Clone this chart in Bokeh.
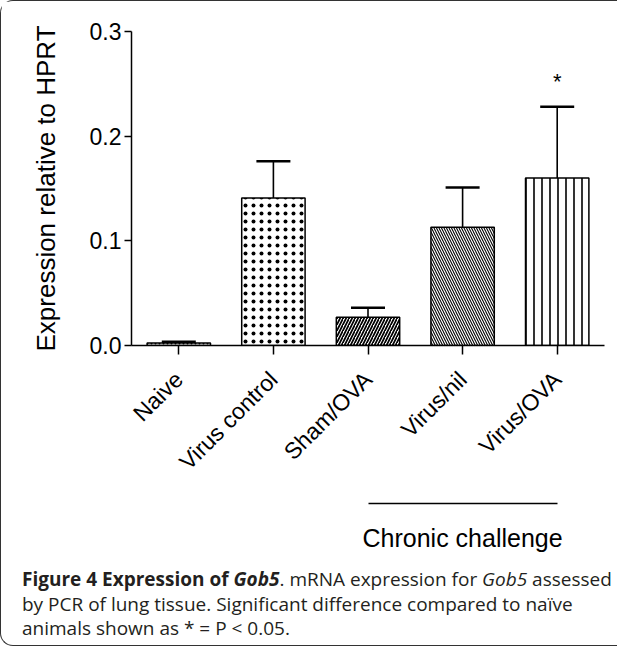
import math
from bokeh.plotting import figure
from bokeh.models import (ColumnDataSource, Range1d, Whisker, TeeHead,
                          Div, FixedTicker, NumeralTickFormatter, LinearAxis)
from bokeh.layouts import column
from bokeh.core.properties import value
from bokeh.embed import file_html
from bokeh.resources import INLINE

# ---- data ----
categories = ["Naive", "Virus control", "Sham/OVA", "Virus/nil", "Virus/OVA"]
means = [0.0025, 0.141, 0.027, 0.113, 0.160]
upper = [0.0035, 0.176, 0.036, 0.151, 0.228]
significance = ["", "", "", "", "*"]
hatches = ["dot", "dot", "right_diagonal_line", "left_diagonal_line", "vertical_line"]
hatch_scales = [4, 8, 6, 5, 8]
hatch_weights = [1.5, 0.9, 1.7, 1.1, 1.6]
y_ticks = [0.0, 0.1, 0.2, 0.3]
bracket_group = ["Sham/OVA", "Virus/nil", "Virus/OVA"]
bracket_label = "Chronic challenge"
y_label = "Expression relative to HPRT"

FONT = "Liberation Sans"
W = 606

idx = list(range(len(categories)))
src = ColumnDataSource(dict(x=idx, cat=categories, mean=means, upper=upper,
                            hatch=hatches, hscale=hatch_scales, hweight=hatch_weights,
                            star=significance,
                            star_y=[u + 0.024 for u in upper]))

p = figure(x_range=Range1d(-0.5, len(categories) - 0.5), y_range=Range1d(0, 0.3),
           width=W, height=561, output_backend="svg", toolbar_location=None,
           min_border_left=130, min_border_right=3, min_border_top=30,
           min_border_bottom=217)
p.outline_line_color = None
p.grid.visible = False
p.background_fill_color = "white"
p.border_fill_color = "white"

p.vbar(x="x", top="mean", bottom=0, width=0.67, source=src,
       fill_color="white", line_color="black", line_width=1.5,
       hatch_pattern="hatch", hatch_scale="hscale", hatch_color="black",
       hatch_weight="hweight")

p.add_layout(Whisker(source=src, base="x", upper="upper", lower="mean",
                     dimension="height", line_color="black", line_width=1.6,
                     upper_head=TeeHead(size=34, line_width=2.5, line_color="black"),
                     lower_head=None))

p.text(x="x", y="star_y", text="star", source=src, text_font=value(FONT),
       text_font_size="22px", text_align="center", text_baseline="alphabetic",
       text_color="black")

# y axis
ya = p.yaxis[0]
ya.ticker = FixedTicker(ticks=y_ticks)
ya.formatter = NumeralTickFormatter(format="0.0")
ya.axis_label = y_label
ya.axis_label_text_font = FONT
ya.axis_label_text_font_size = "26px"
ya.axis_label_text_font_style = "normal"
ya.axis_label_text_color = "black"
ya.axis_label_standoff = 26
ya.major_label_text_font = FONT
ya.major_label_text_font_size = "23px"
ya.major_label_text_color = "black"
ya.major_label_standoff = 3
ya.major_tick_out = 7
ya.major_tick_in = 0
ya.minor_tick_out = 0
ya.minor_tick_in = 0
ya.axis_line_width = 1.5
ya.axis_line_color = "black"
ya.major_tick_line_width = 1.5
ya.major_tick_line_color = "black"

# x axis (categories); a blank axis label only adds the gap before the bracket axis
xa = p.xaxis[0]
xa.ticker = FixedTicker(ticks=idx)
xa.major_label_overrides = {i: c for i, c in zip(idx, categories)}
xa.major_label_orientation = math.pi / 4
xa.major_label_text_font = FONT
xa.major_label_text_font_size = "23px"
xa.major_label_text_color = "black"
xa.major_label_standoff = 21
xa.major_tick_out = 9
xa.major_tick_in = 0
xa.minor_tick_out = 0
xa.minor_tick_in = 0
xa.axis_line_width = 1.5
xa.axis_line_color = "black"
xa.major_tick_line_width = 1.5
xa.major_tick_line_color = "black"
xa.axis_label = " "
xa.axis_label_standoff = 0
xa.axis_label_text_font_size = "12px"

# bracket axis spanning the chronic challenge groups, labelled at the middle group
mid = categories.index(bracket_group[1])
bracket = LinearAxis(ticker=FixedTicker(ticks=[mid]),
                     major_label_overrides={mid: bracket_label},
                     bounds=(categories.index(bracket_group[0]),
                             categories.index(bracket_group[-1])),
                     major_label_text_font=FONT, major_label_text_font_size="25px",
                     major_label_text_color="black", major_label_standoff=20,
                     axis_line_color="black", axis_line_width=1.5,
                     major_tick_out=0, major_tick_in=0, minor_tick_out=0, minor_tick_in=0,
                     major_tick_line_color=None, minor_tick_line_color=None)
p.add_layout(bracket, "below")

caption = Div(
    text=("<b>Figure 4 Expression of <i>Gob5</i></b>. mRNA expression for <i>Gob5</i> assessed<br>"
          "by PCR of lung tissue. Significant difference compared to na\u00efve<br>"
          "animals shown as * = P &lt; 0.05."),
    width=W, height=73,
    styles={"font-family": "'Open Sans'", "font-size": "19px", "line-height": "24.5px",
            "color": "#231f20", "white-space": "nowrap", "padding-left": "16px"})

layout = column(p, caption,
                styles={"border-top": "1.5px solid #333", "border-left": "1.5px solid #333",
                        "border-bottom": "1.5px solid #333",
                        "border-top-left-radius": "13px", "border-bottom-left-radius": "13px"})

open("out.html", "w").write(file_html(layout, INLINE))
